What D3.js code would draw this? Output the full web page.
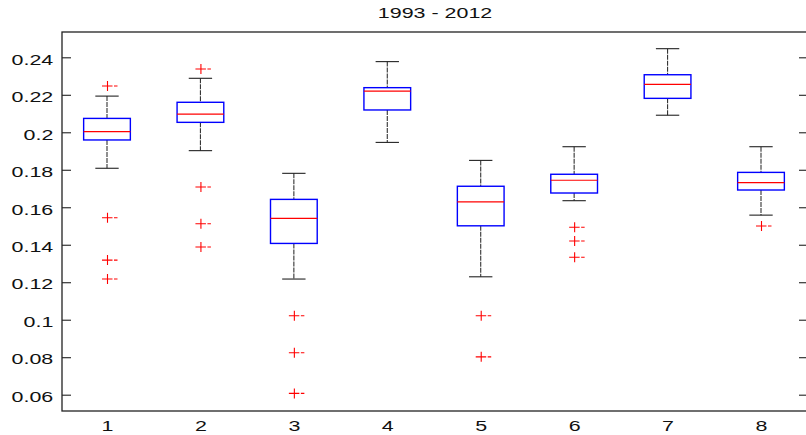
<!DOCTYPE html>
<html>
<head>
<meta charset="utf-8">
<script src="https://cdn.jsdelivr.net/npm/d3@7"></script>
<style>
  html, body { margin: 0; padding: 0; background: #fff; }
  svg { display: block; }
  text { font-family: "Liberation Sans", Arial, Helvetica, sans-serif; fill: #111; }
</style>
</head>
<body>
<svg id="chart" width="806" height="435"></svg>
<script>
// Five-number summaries per group, plus outliers
const categories  = [1, 2, 3, 4, 5, 6, 7, 8];
const whiskerLow  = [0.1808, 0.1902, 0.1217, 0.1946, 0.1229, 0.1635, 0.2091, 0.1558];
const q1          = [0.1959, 0.2053, 0.1407, 0.2119, 0.1501, 0.1676, 0.2181, 0.1692];
const medians     = [0.2003, 0.2097, 0.1541, 0.2220, 0.1629, 0.1744, 0.2256, 0.1731];
const q3          = [0.2074, 0.2160, 0.1642, 0.2238, 0.1712, 0.1776, 0.2307, 0.1786];
const whiskerHigh = [0.2193, 0.2288, 0.1781, 0.2377, 0.1850, 0.1923, 0.2446, 0.1923];
const outliers    = [
  [0.2247, 0.1544, 0.1318, 0.1217],
  [0.2338, 0.1708, 0.1512, 0.1388],
  [0.1021, 0.0824, 0.0607],
  [],
  [0.1021, 0.0802],
  [0.1493, 0.1420, 0.1333],
  [],
  [0.1500]
];
const yTicks = [0.06, 0.08, 0.10, 0.12, 0.14, 0.16, 0.18, 0.20, 0.22, 0.24];
const title = "1993 - 2012";

const svg = d3.select("#chart");
const plot = { left: 62, right: 808, top: 32, bottom: 411 };
const textStretch = 1.43;   // wide Helvetica-like glyphs

const x = d3.scaleLinear().domain([1, 8]).range([107, 761]);
const y = d3.scaleLinear().domain([0.0513, 0.2535]).range([plot.bottom, plot.top]);

const boxHalf = (x(2) - x(1)) * 0.25;
const capHalf = (x(2) - x(1)) * 0.125;

const groups = categories.map((c, i) => ({
  c, lo: whiskerLow[i], q1: q1[i], med: medians[i], q3: q3[i], hi: whiskerHigh[i], out: outliers[i]
}));

const g = svg.append("g");

// whiskers (dashed) and caps
const wg = g.selectAll("g.box").data(groups).join("g").attr("class", "box");
wg.append("line")
  .attr("x1", d => x(d.c)).attr("x2", d => x(d.c))
  .attr("y1", d => y(d.hi)).attr("y2", d => y(d.q3))
  .attr("stroke", "#333").attr("stroke-width", 1.1).attr("stroke-dasharray", "5,1");
wg.append("line")
  .attr("x1", d => x(d.c)).attr("x2", d => x(d.c))
  .attr("y1", d => y(d.q1)).attr("y2", d => y(d.lo))
  .attr("stroke", "#333").attr("stroke-width", 1.1).attr("stroke-dasharray", "5,1");
wg.append("line")
  .attr("x1", d => x(d.c) - capHalf).attr("x2", d => x(d.c) + capHalf)
  .attr("y1", d => y(d.hi)).attr("y2", d => y(d.hi))
  .attr("stroke", "#222").attr("stroke-width", 1.1);
wg.append("line")
  .attr("x1", d => x(d.c) - capHalf).attr("x2", d => x(d.c) + capHalf)
  .attr("y1", d => y(d.lo)).attr("y2", d => y(d.lo))
  .attr("stroke", "#222").attr("stroke-width", 1.1);

// boxes
wg.append("rect")
  .attr("x", d => x(d.c) - boxHalf).attr("width", boxHalf * 2)
  .attr("y", d => y(d.q3)).attr("height", d => y(d.q1) - y(d.q3))
  .attr("fill", "none").attr("stroke", "#0000ff").attr("stroke-width", 1.4);

// medians
wg.append("line")
  .attr("x1", d => x(d.c) - boxHalf).attr("x2", d => x(d.c) + boxHalf)
  .attr("y1", d => y(d.med)).attr("y2", d => y(d.med))
  .attr("stroke", "#ff0000").attr("stroke-width", 1.2);

// outliers as red plus markers
const plusPath = "M-5.5,0H5M6.5,0H10M0,-5V5";
wg.selectAll("path.out").data(d => d.out.map(v => ({ c: d.c, v })))
  .join("path").attr("class", "out")
  .attr("transform", d => `translate(${x(d.c) + 0.5},${y(d.v)})`)
  .attr("d", plusPath)
  .attr("fill", "none").attr("stroke", "#ff0000").attr("stroke-width", 1.1);

// frame
const frameColor = "#222";
g.append("rect")
  .attr("x", plot.left).attr("y", plot.top)
  .attr("width", plot.right - plot.left).attr("height", plot.bottom - plot.top)
  .attr("fill", "none").attr("stroke", frameColor).attr("stroke-width", 1.3);

// left axis with inward ticks
const yAxis = d3.axisLeft(y).tickValues(yTicks).tickFormat(d3.format("~g"))
  .tickSizeInner(-9).tickSizeOuter(0).tickPadding(8.7);
const ya = g.append("g").attr("transform", `translate(${plot.left},0)`).call(yAxis);
ya.select(".domain").remove();
ya.selectAll(".tick line").attr("stroke", frameColor).attr("stroke-width", 1.1);
ya.selectAll(".tick text")
  .attr("x", -8.7 / textStretch).attr("dy", "0.45em")
  .attr("transform", `scale(${textStretch},1)`)
  .style("font-size", "15px").attr("font-family", null);

// right axis, ticks only
const yAxisR = d3.axisRight(y).tickValues(yTicks).tickFormat("")
  .tickSizeInner(-9).tickSizeOuter(0);
const yr = g.append("g").attr("transform", `translate(${plot.right},0)`).call(yAxisR);
yr.select(".domain").remove();
yr.selectAll(".tick line").attr("stroke", frameColor).attr("stroke-width", 1.1);

// bottom category labels
const xAxis = d3.axisBottom(x).tickValues(categories).tickFormat(d3.format("d"))
  .tickSize(0).tickPadding(8.9);
const xa = g.append("g").attr("transform", `translate(0,${plot.bottom})`).call(xAxis);
xa.select(".domain").remove();
xa.selectAll(".tick text")
  .attr("transform", `scale(${textStretch},1)`)
  .style("font-size", "15px").attr("font-family", null);

// title
svg.append("text")
  .attr("transform", `translate(${(plot.left + plot.right) / 2},18.3) scale(${textStretch},1)`)
  .attr("text-anchor", "middle")
  .style("font-size", "15px")
  .text(title);
</script>
</body>
</html>
